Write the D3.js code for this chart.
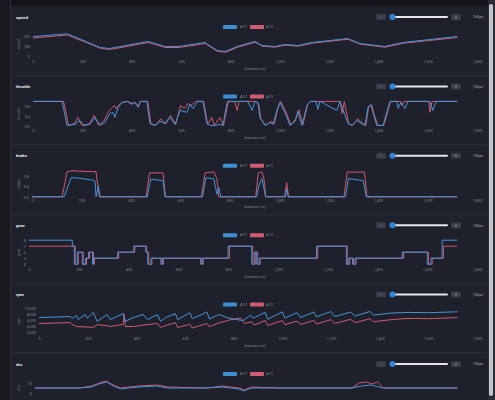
<!DOCTYPE html>
<html><head><meta charset="utf-8">
<script src="https://cdn.jsdelivr.net/npm/d3@7"></script>
<style>
html,body{margin:0;padding:0;background:#1e212b;overflow:hidden}
svg{display:block}
</style></head><body>
<svg id="c" width="495" height="400"></svg>
<script>
// ---------- data ----------
const panelNames = ["speed","throttle","brake","gear","rpm","drs"];
const legendLabels = ["4:11","4:11"];
const xTickValues = [0,200,400,600,800,1000,1200,1400,1600,1800];
const xAxisTitle = "distance (m)";
const zoomLabel = "165px";

const speedTicks = [0,100,200];
const throttleTicks = [0,0.4,0.8];
const brakeTicks = [0,0.4,0.8];
const gearTicks = [4,5,6,7,8];
const rpmTicks = [2000,4000,6000,8000,10000];
const drsTicks = [0,10];

const speedBlue = [[0,195],[140,222],[272,85],[310,75],[466,145],[535,95],[590,95],[697,135],[746,55],[780,45],[827,95],[900,145],[928,105],[980,95],[1020,115],[1075,105],[1130,135],[1205,155],[1275,175],[1325,125],[1425,95],[1500,135],[1720,195]];
const speedRed  = [[0,180],[140,210],[276,75],[314,65],[468,135],[537,85],[592,85],[699,125],[748,45],[782,38],[829,88],[902,138],[930,98],[982,88],[1022,108],[1077,98],[1132,128],[1207,148],[1277,168],[1327,118],[1427,88],[1502,128],[1720,185]];

const throttleBlue = [[0,1],[118,1],[138,0.04],[170,0.08],[190,0.24],[207,0.04],[231,0.08],[251,0.36],[272,0.04],[292,0.16],[312,0.52],[324,0.56],[332,0.36],[345,0.76],[361,0.96],[381,1],[401,0.88],[413,0.96],[426,0.76],[434,1],[462,1],[474,0.12],[495,0.04],[515,0.2],[535,0.12],[555,0.36],[576,0.08],[596,0.64],[624,0.56],[636,0.88],[649,0.72],[665,0.96],[669,1],[689,1],[705,0.12],[717,0.04],[738,0.04],[758,0.08],[770,0.04],[786,0.92],[790,1],[871,1],[888,0.64],[900,1],[912,0.96],[920,0.36],[940,0.04],[961,0.16],[973,0.08],[989,0.64],[1001,0.96],[1021,0.56],[1042,0.04],[1062,0.2],[1074,0.6],[1090,0.04],[1111,0.84],[1123,1],[1147,1],[1155,0.68],[1163,1],[1232,0.64],[1244,1],[1277,0.12],[1293,0.04],[1313,0.24],[1325,0.16],[1346,0.04],[1358,0.76],[1370,0.88],[1378,0.56],[1394,0.04],[1419,0.04],[1447,1],[1476,1],[1480,0.72],[1492,0.96],[1508,0.72],[1520,1],[1609,1],[1621,0.64],[1634,1],[1720,1]];
const throttleRed = [[0,1],[124,1],[144,0.04],[168,0.12],[182,0.36],[198,0.04],[228,0.1],[248,0.44],[266,0.05],[288,0.22],[306,0.6],[318,0.72],[330,0.84],[338,0.7],[350,0.88],[365,0.96],[383,1],[403,0.92],[415,0.96],[428,0.8],[436,1],[465,1],[478,0.1],[498,0.04],[518,0.3],[538,0.1],[558,0.44],[578,0.06],[598,0.84],[614,0.72],[628,0.92],[640,0.84],[660,1],[692,1],[708,0.08],[725,0.36],[735,0.04],[758,0.36],[772,0.04],[790,0.9],[796,1],[818,1],[827,0.64],[836,1],[903,1],[915,0.9],[924,0.3],[944,0.04],[965,0.2],[978,0.1],[992,0.7],[1004,1],[1024,0.6],[1046,0.06],[1066,0.3],[1078,0.66],[1094,0.06],[1114,0.9],[1126,1],[1245,1],[1253,0.52],[1262,1],[1280,0.1],[1296,0.04],[1316,0.3],[1328,0.2],[1349,0.04],[1361,0.8],[1374,0.84],[1382,0.5],[1398,0.04],[1422,0.04],[1450,1],[1490,1],[1496,0.84],[1504,1],[1605,1],[1609,0.56],[1618,1],[1720,1]];

const brakeBlue = [[0,0],[130,0],[158,0.73],[180,0.73],[245,0.64],[255,0.6],[259,0],[268,0.42],[276,0],[466,0],[480,0.68],[530,0.62],[538,0],[690,0],[703,0.73],[735,0.7],[748,0.1],[756,0.35],[764,0],[908,0],[920,0.5],[930,0.7],[945,0],[1025,0],[1030,0.3],[1036,0],[1268,0],[1280,0.7],[1340,0.62],[1352,0],[1720,0]];
const brakeRed = [[0,0],[122,0],[142,0.96],[162,1],[259,0.96],[272,0],[462,0],[475,0.92],[530,0.92],[540,0],[685,0],[700,0.92],[735,0.96],[748,0.7],[755,0],[905,0],[915,0.92],[930,0.96],[938,0.7],[946,0],[1022,0],[1030,0.54],[1038,0],[1262,0],[1275,0.95],[1345,0.95],[1355,0],[1720,0]];

const gearBlue = [[0,8],[174,7],[182,4],[194,6],[214,4],[227,5],[239,6],[255,4],[259,5],[356,6],[421,7],[469,6],[477,4],[490,5],[530,4],[536,5],[690,4],[696,5],[800,7],[895,4],[905,6],[915,4],[925,5],[1155,7],[1275,4],[1285,5],[1300,4],[1310,5],[1500,6],[1600,4],[1615,5],[1660,8],[1720,8]];
const gearRed = [[0,7],[166,7],[186,4],[198,6],[218,4],[231,5],[243,6],[259,4],[263,5],[360,6],[425,7],[473,6],[481,4],[494,5],[534,4],[540,5],[694,4],[700,5],[805,7],[899,4],[909,6],[919,4],[929,5],[1160,7],[1279,4],[1289,5],[1304,4],[1314,5],[1505,6],[1605,4],[1620,5],[1665,7],[1720,7]];

const rpmBlue = [[0,7000],[128,7300],[136,6700],[155,7700],[161,6300],[190,8000],[198,6700],[223,8700],[239,5700],[280,8000],[293,6300],[346,8300],[355,5700],[388,7000],[429,8000],[446,6300],[487,8000],[499,5700],[520,7000],[560,8300],[570,6300],[620,8600],[630,6600],[690,8800],[700,6500],[740,8000],[770,7000],[820,6200],[840,6000],[870,7800],[880,6800],[930,8700],[940,6400],[1000,8900],[1010,6800],[1060,8600],[1075,7000],[1130,8800],[1140,7200],[1200,9000],[1215,7300],[1280,8800],[1300,7500],[1360,9000],[1375,7800],[1450,8500],[1520,8700],[1600,8600],[1720,8900]];
const rpmRed = [[0,5000],[128,5300],[136,4700],[155,4000],[223,3700],[239,4600],[280,4300],[293,4000],[346,4700],[350,8000],[355,4000],[388,4000],[429,4500],[487,5000],[499,3700],[520,4300],[560,5300],[570,3700],[620,4700],[630,3500],[690,5000],[700,4000],[740,5200],[790,6300],[830,6800],[845,5000],[875,5600],[885,4500],[930,6000],[940,4300],[1000,6000],[1010,4600],[1060,5800],[1075,4700],[1130,6000],[1140,4800],[1200,6300],[1215,5000],[1280,6400],[1300,5300],[1360,6600],[1375,5600],[1450,6300],[1520,6700],[1600,6600],[1720,7000]];

const drsBlue = [[0,5],[180,5],[230,6],[260,9],[292,11],[320,7],[350,4],[380,5],[420,6],[495,7],[540,5],[700,5],[760,6],[830,4],[850,2],[880,5],[1000,5],[1290,5],[1330,7],[1370,8],[1400,6],[1420,5],[1720,5]];
const drsRed = [[0,5],[180,5],[232,7],[262,10],[290,12],[318,8],[348,5],[382,6],[422,7],[497,8],[542,6],[700,5],[762,7],[832,5],[852,3],[882,6],[1000,5],[1290,5],[1320,10],[1350,11],[1372,9],[1395,11],[1420,5],[1720,5]];

// ---------- layout ----------
const W = 495, H = 400;
const panelTop = d3.range(6).map(i => 17 + i*69.4);
const cfg = [
  {name:panelNames[0], blue:speedBlue, red:speedRed, ticks:speedTicks, dom:[0,240], left:33, r:[39,15], fmt:d3.format(",")},
  {name:panelNames[1], blue:throttleBlue, red:throttleRed, ticks:throttleTicks, dom:[0,1], left:33, r:[40,15], fmt:d3.format(".1f")},
  {name:panelNames[2], blue:brakeBlue, red:brakeRed, ticks:brakeTicks, dom:[0,1], left:32, r:[41,15], fmt:d3.format(".1f")},
  {name:panelNames[3], blue:gearBlue, red:gearRed, ticks:gearTicks, dom:[4,8], left:29, r:[39,15], fmt:d3.format("d"), step:true},
  {name:panelNames[4], blue:rpmBlue, red:rpmRed, ticks:rpmTicks, dom:[1300,10300], left:39, r:[40,13], fmt:d3.format(",")},
  {name:panelNames[5], blue:drsBlue, red:drsRed, ticks:drsTicks, dom:[0,10], left:35, r:[29,19], fmt:d3.format("d"), noX:true}
];

const svg = d3.select("#c");
const font = "Roboto, 'DejaVu Sans', sans-serif";
const BLUE = "#4893d6", RED = "#cf5872";
const TICK = "#7f848e";

svg.append("rect").attr("width",W).attr("height",H).attr("fill","#1e212b");
svg.append("rect").attr("width",W).attr("height",6).attr("fill","#13151b");
svg.append("rect").attr("x",0).attr("y",0).attr("width",10).attr("height",H).attr("fill","#17191f");
svg.append("line").attr("x1",10.5).attr("x2",10.5).attr("y1",0).attr("y2",H).attr("stroke","#2c303b");
svg.append("rect").attr("x",488).attr("y",0).attr("width",7).attr("height",H).attr("fill","#2a2d35");
svg.append("rect").attr("x",489).attr("y",4).attr("width",4).attr("height",392).attr("rx",2).attr("fill","#c4c6ca");

cfg.forEach((c,i) => {
  const T = panelTop[i];
  const g = svg.append("g");
  if (i>0) g.append("line").attr("x1",11).attr("x2",487).attr("y1",T-11).attr("y2",T-11).attr("stroke","#2c303b").attr("stroke-width",1);
  g.append("text").attr("x",16).attr("y",T+1.5).text(c.name)
    .attr("fill","#e6e8ec").attr("font-size",4.4).attr("font-weight","bold").attr("font-family",font);

  // controls
  g.append("rect").attr("x",376).attr("y",T-3).attr("width",10).attr("height",6).attr("rx",1.5).attr("fill","#393d48");
  g.append("text").attr("x",381).attr("y",T+1.5).attr("text-anchor","middle").text("−").attr("fill","#a8acb4").attr("font-size",5).attr("font-family",font);
  g.append("rect").attr("x",390).attr("y",T-1).attr("width",58).attr("height",2).attr("rx",1).attr("fill","#e4e6ea");
  g.append("circle").attr("cx",392.5).attr("cy",T).attr("r",3).attr("fill","#2f86d6");
  g.append("rect").attr("x",451).attr("y",T-3).attr("width",10).attr("height",6).attr("rx",1.5).attr("fill","#393d48");
  g.append("text").attr("x",456).attr("y",T+1.5).attr("text-anchor","middle").text("+").attr("fill","#a8acb4").attr("font-size",5).attr("font-family",font);
  g.append("text").attr("x",478).attr("y",T+1.3).attr("text-anchor","middle").text(zoomLabel).attr("fill","#a8acb4").attr("font-size",3.8).attr("font-family",font);

  // legend
  const ly = T+8;
  g.append("rect").attr("x",223).attr("y",ly).attr("width",14).attr("height",4).attr("rx",0.8).attr("fill","#3b8fd2");
  g.append("text").attr("x",240).attr("y",ly+3.2).text(legendLabels[0]).attr("fill","#9ca1aa").attr("font-size",3.6).attr("font-family",font);
  g.append("rect").attr("x",250).attr("y",ly).attr("width",14).attr("height",4).attr("rx",0.8).attr("fill","#cf5a72");
  g.append("text").attr("x",266).attr("y",ly+3.2).text(legendLabels[1]).attr("fill","#9ca1aa").attr("font-size",3.6).attr("font-family",font);

  const x = d3.scaleLinear().domain([0,1800]).range([c.left,477]);
  const y = d3.scaleLinear().domain(c.dom).range([T+c.r[0], T+c.r[1]]);

  const yAxis = d3.axisLeft(y).tickValues(c.ticks).tickFormat(c.fmt).tickSize(0).tickPadding(3);
  const ya = g.append("g").attr("transform",`translate(${c.left},0)`).call(yAxis);
  ya.select(".domain").remove();
  ya.selectAll("text").attr("fill",TICK).attr("font-size",3.8).attr("font-family",font);

  if (!c.noX) {
    const xAxis = d3.axisBottom(x).tickValues(xTickValues).tickFormat(d3.format(",")).tickSize(0).tickPadding(0);
    const xa = g.append("g").attr("transform",`translate(0,${T+43})`).call(xAxis);
    xa.select(".domain").remove();
    xa.selectAll("text").attr("fill",TICK).attr("font-size",3.8).attr("font-family",font);
    g.append("text").attr("x",255).attr("y",T+52.5).attr("text-anchor","middle").text(xAxisTitle)
      .attr("fill",TICK).attr("font-size",3.8).attr("font-family",font);
  }
  const ymid = T + (c.r[0]+c.r[1])/2;
  g.append("text").attr("transform",`translate(19.5,${ymid}) rotate(-90)`).attr("text-anchor","middle").text(c.name)
    .attr("fill",TICK).attr("font-size",3.8).attr("font-family",font);

  const line = d3.line().x(d=>x(d[0])).y(d=>y(d[1])).curve(c.step ? d3.curveStepAfter : d3.curveLinear);
  g.append("path").datum(c.red).attr("d",line).attr("fill","none").attr("stroke",RED).attr("stroke-width",1).attr("stroke-linejoin","round");
  g.append("path").datum(c.blue).attr("d",line).attr("fill","none").attr("stroke",BLUE).attr("stroke-width",1).attr("stroke-linejoin","round");
});
</script>
</body></html>
